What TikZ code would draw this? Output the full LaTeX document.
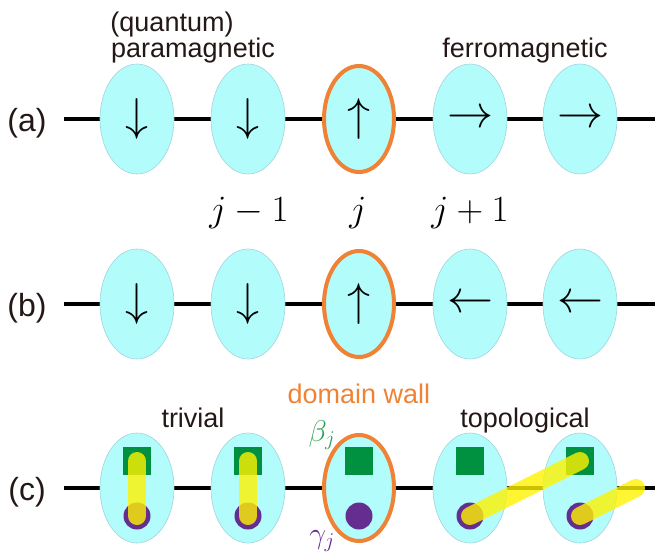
\RequirePackage{fix-cm}
\documentclass[tikz,border=0pt]{standalone}
\usepackage{fontspec}
\newfontfamily\labfont{Liberation Sans}
\usetikzlibrary{shapes.geometric}
\definecolor{txt}{HTML}{231815}
\definecolor{cyanfill}{HTML}{B3FCFC}
\definecolor{siteedge}{HTML}{A0D4DC}
\definecolor{wallorange}{HTML}{EF8234}
\definecolor{sqgreen}{HTML}{009140}
\definecolor{betagreen}{HTML}{2CA05A}
\definecolor{dotpurple}{HTML}{662D91}
\definecolor{baryellow}{HTML}{FFF200}
\tikzset{
  site/.style={ellipse, minimum width=74pt, minimum height=110pt, inner sep=0pt,
    fill=cyanfill, draw=siteedge, line width=0.6pt, font=\fontsize{46}{50}\selectfont},
  wallsite/.style={site, draw=wallorange, line width=4pt, minimum width=70pt, minimum height=106pt},
  chain/.style={line width=4.5pt, black},
  lab/.style={inner sep=0pt, anchor=base, text=txt, font=\labfont\fontsize{27}{30}\selectfont},
  rowlab/.style={lab, font=\labfont\fontsize{32}{36}\selectfont},
  mlab/.style={inner sep=0pt, anchor=base, font=\fontsize{37}{40}\selectfont},
  greek/.style={inner sep=0pt, anchor=base, font=\fontsize{30}{33}\selectfont},
  sq/.style={rectangle, fill=sqgreen, minimum size=28pt, inner sep=0pt},
  dot/.style={circle, fill=dotpurple, minimum size=27pt, inner sep=0pt},
  bar/.style={line width=18pt, line cap=round, draw=baryellow, draw opacity=0.8}
}
\begin{document}
\begin{tikzpicture}[x=1pt,y=-1pt]
\useasboundingbox (0,0) rectangle (655,551);
% labels
\node[lab] (qa) at (172,32) {(quantum)};
\node[lab] (pm) at (193,57) {paramagnetic};
\node[lab] (fm) at (525,57) {ferromagnetic};
\node[rowlab] (la) at (27,131) {(a)};
\node[rowlab] (lb) at (27,316) {(b)};
\node[rowlab] (lc) at (27,500) {(c)};
\node[lab, text=wallorange] (dw) at (359,403) {domain wall};
\node[lab] (tr) at (193,427) {trivial};
\node[lab] (tp) at (525,427) {topological};
\node[mlab] (jm) at (249,221) {$j-1$};
\node[mlab] (jj) at (358,221) {$j$};
\node[mlab] (jp) at (470,221) {$j+1$};
% row a
\coordinate (La) at (64,119); \coordinate (Ra) at (655,119);
\draw[chain] (La) -- (Ra);
\node[site] (a1) at (137,119) {$\downarrow$};
\node[site] (a2) at (248,119) {$\downarrow$};
\node[wallsite] (a3) at (359,119) {$\uparrow$};
\node[site] (a4) at (470,119) {$\rightarrow$};
\node[site] (a5) at (580,119) {$\rightarrow$};
% row b
\coordinate (Lb) at (64,304); \coordinate (Rb) at (655,304);
\draw[chain] (Lb) -- (Rb);
\node[site] (b1) at (137,304) {$\downarrow$};
\node[site] (b2) at (248,304) {$\downarrow$};
\node[wallsite] (b3) at (359,304) {$\uparrow$};
\node[site] (b4) at (470,304) {$\leftarrow$};
\node[site] (b5) at (580,304) {$\leftarrow$};
% row c
\coordinate (Lc) at (64,488); \coordinate (Rc) at (655,488);
\draw[chain] (Lc) -- (Rc);
\node[site] (c1) at (137,488) {};
\node[site] (c2) at (248,488) {};
\node[wallsite] (c3) at (359,488) {};
\node[site] (c4) at (470,488) {};
\node[site] (c5) at (580,488) {};
\foreach \i/\x in {1/137,2/248,3/359,4/470,5/580}{
  \node[sq] (s\i) at (\x,461) {};
  \node[dot] (d\i) at (\x,516) {};
}
\node[greek, text=betagreen] (beta) at (322,441) {$\beta_j$};
\node[greek, text=dotpurple] (gamma) at (322,543) {$\gamma_j$};
% yellow bonds
\coordinate (e) at (636,488);
\draw[bar] (s1.center) -- (d1.center);
\draw[bar] (s2.center) -- (d2.center);
\draw[bar] (d4.center) -- (s5.center);
\draw[bar] (d5.center) -- (e);
\end{tikzpicture}
\end{document}
